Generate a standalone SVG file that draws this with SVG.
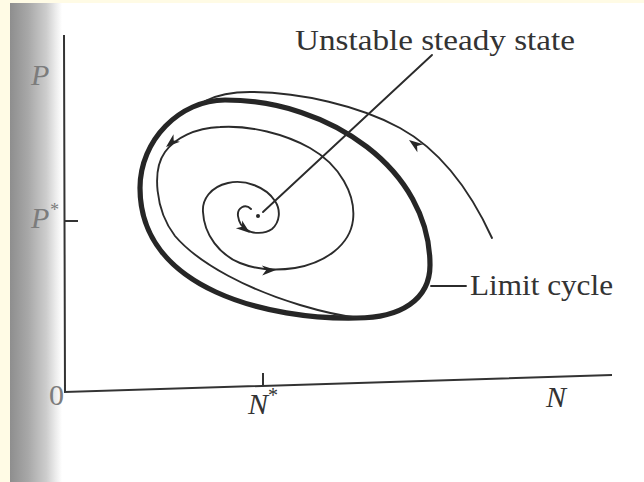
<svg xmlns="http://www.w3.org/2000/svg" xmlns:xlink="http://www.w3.org/1999/xlink" width="644" height="482" viewBox="0 0 644 482">
  <style>
    .thin { fill: none; stroke: #2b2b2b; stroke-width: 1.9; stroke-linecap: round; stroke-linejoin: round; }
    .thick { fill: none; stroke: #262626; stroke-width: 5.2; }
    .axis { fill: none; stroke: #333; stroke-width: 2; }
    .lbl { font-family: "Liberation Serif", "DejaVu Serif", serif; font-size: 30px; fill: #333; }
    .it { font-style: italic; }
    .faded { fill: #7c7c7c; }
    .ah { fill: #262626; }
  </style>
  <defs>
    <linearGradient id="strip" x1="10" y1="0" x2="62" y2="0" gradientUnits="userSpaceOnUse">
      <stop offset="0" stop-color="#8e8e8e"/>
      <stop offset="0.35" stop-color="#a8a8a8"/>
      <stop offset="0.7" stop-color="#cdcdcd"/>
      <stop offset="0.88" stop-color="#ececec"/>
      <stop offset="1" stop-color="#ffffff"/>
    </linearGradient>
    <path id="ah" d="M0,0 L-14,-5 L-10,0 L-14,5 Z"/>
  </defs>

  <!-- page background -->
  <rect x="0" y="0" width="644" height="482" fill="#fffbe5"/>
  <rect x="10" y="3" width="634" height="479" fill="#ffffff"/>
  <rect x="10" y="3" width="52" height="479" fill="url(#strip)"/>

  <!-- axes -->
  <g id="axes">
    <path class="axis" d="M64,35 L65,392 L612,375"/>
    <path class="axis" d="M64,221 L78,221"/>
    <path class="axis" d="M263,373 L263,386"/>
  </g>

  <!-- axis labels -->
  <g id="axis-labels">
    <text class="lbl it faded" x="31" y="85">P</text>
    <text class="lbl it faded" x="31" y="228">P<tspan font-size="18" dy="-12">*</tspan></text>
    <text class="lbl faded" x="49" y="405">0</text>
    <text class="lbl it" x="248" y="414">N<tspan font-size="20" font-style="normal" dy="-12">*</tspan></text>
    <text class="lbl it" x="546" y="407">N</text>
  </g>

  <!-- limit cycle -->
  <g id="limit-cycle">
    <path class="thick" d="M225,100 C330,100 430,170 430,265 C430,300 400,318 357,318 C270,320 140,290 140,188 C140,140 180,100 225,100 Z"/>
  </g>

  <!-- trajectories -->
  <g id="trajectories">
    <path class="thin" d="M492,238 C470,190 440,150 400,128 C360,106 300,92 250,92 C230,92 215,96 205,101"/>
    <path class="thin" d="M251,209 C245,203 237,208 238,216 C239,223 243,228 247,230 C252,234 265,234 272,229 C280,222 281,210 275,201 C266,187 245,179 228,183 C210,187 202,200 203,212 C204,235 220,255 240,263 C255,269 275,271 295,268 C325,263 350,245 353,220 C356,195 340,165 310,148 C285,134 250,125 220,127 C195,128 175,138 165,152 C152,170 155,210 175,236 C200,265 250,290 300,305 C320,311 340,316 360,318"/>
    <circle cx="258" cy="216" r="2" fill="#262626"/>
  </g>

  <!-- arrowheads -->
  <g id="arrowheads">
    <use xlink:href="#ah" class="ah" transform="translate(250,233) rotate(38)"/>
    <use xlink:href="#ah" class="ah" transform="translate(276,270) rotate(-2)"/>
    <use xlink:href="#ah" class="ah" transform="translate(166,147) rotate(140)"/>
    <use xlink:href="#ah" class="ah" transform="translate(409,140) rotate(-144)"/>
  </g>

  <!-- annotations -->
  <g id="label-unstable">
    <text class="lbl" x="295" y="50" textLength="280" lengthAdjust="spacingAndGlyphs">Unstable steady state</text>
  </g>
  <g id="label-limit">
    <text class="lbl" x="470" y="295" textLength="143" lengthAdjust="spacingAndGlyphs">Limit cycle</text>
  </g>
  <g id="connectors">
    <path class="thin" d="M432,55 L263,212" stroke-width="1.5"/>
    <path class="thin" d="M431,286 L466,286" stroke-width="1.6"/>
  </g>
</svg>
